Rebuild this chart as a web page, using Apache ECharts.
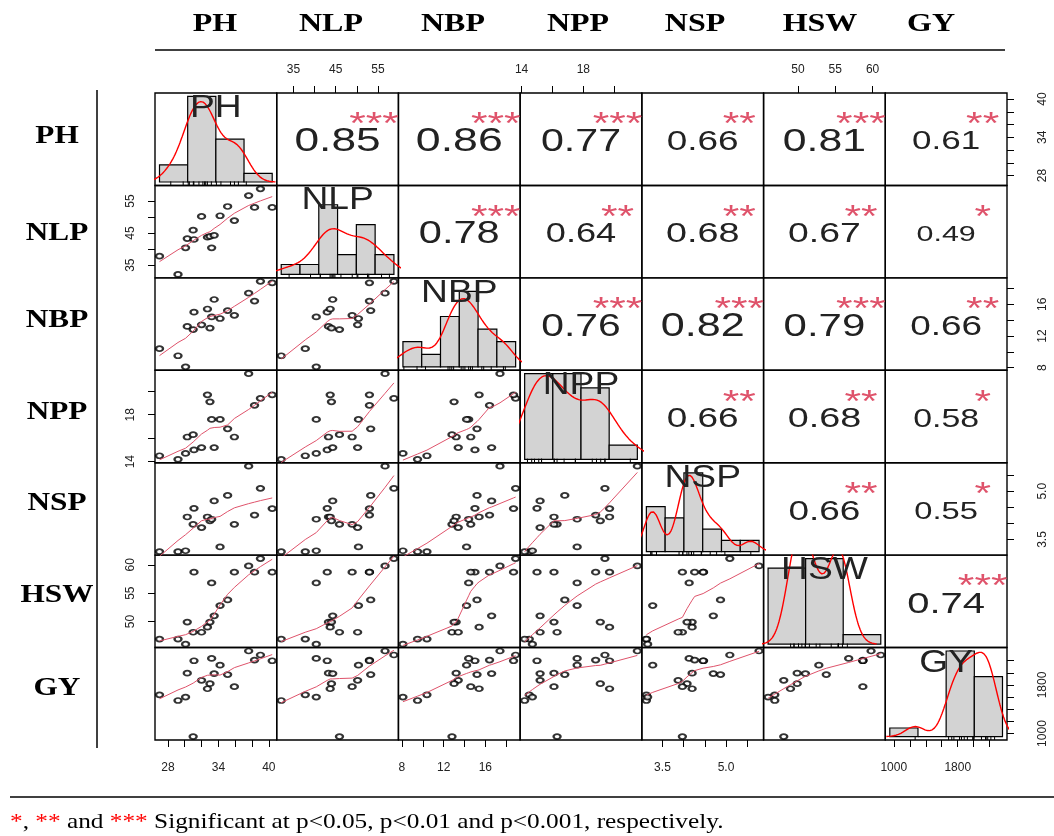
<!DOCTYPE html>
<html><head><meta charset="utf-8">
<script src="https://cdn.jsdelivr.net/npm/echarts@6/dist/echarts.min.js"></script>
<style>html,body{margin:0;padding:0;background:#fff}#c{width:1054px;height:836px}</style>
</head><body><div id="c"></div>
<script>
// ---------------- data ----------------
const varNames = ['PH','NLP','NBP','NPP','NSP','HSW','GY'];
const PH  = [27.0,29.2,30.1,30.3,31.0,31.1,32.0,32.7,33.0,33.2,33.5,34.2,35.1,35.9,37.6,38.3,39.0,40.4];
const NLP = [37.8,32.1,40.4,43.3,45.9,43.0,50.2,43.7,44.0,40.4,44.3,50.4,53.3,48.9,56.7,53.0,58.8,53.0];
const NBP = [10.4,9.5,8.1,13.2,12.8,15.0,13.4,15.4,13.0,14.4,16.6,14.2,15.2,14.6,17.4,16.4,18.9,18.7];
const NPP = [14.5,14.2,14.7,16.1,16.3,15.0,15.2,19.7,19.1,17.6,15.2,17.6,16.8,16.1,21.5,18.8,19.4,19.7];
const NSP = [3.12,3.12,3.15,4.20,3.97,4.47,3.87,4.20,4.08,4.13,4.70,3.27,4.87,3.97,5.78,4.26,5.09,4.46];
const HSW = [46.9,46.9,46.0,49.9,48.1,58.7,48.1,49.0,49.9,56.8,51.0,52.8,53.8,58.7,59.8,58.7,61.1,58.7];
const GY  = [1638,1544,1600,1995,950,2199,1877,1738,1821,2238,1988,2127,1971,1772,2360,2210,2294,2199];

// correlation labels of the upper triangle (row-major) and their significance stars
const corrUpper  = ['0.85','0.86','0.77','0.66','0.81','0.61',
                    '0.78','0.64','0.68','0.67','0.49',
                    '0.76','0.82','0.79','0.66',
                    '0.66','0.68','0.58',
                    '0.66','0.55',
                    '0.74'];
const starsUpper = ['***','***','***','**','***','**',
                    '***','**','**','**','*',
                    '***','***','***','**',
                    '**','**','*',
                    '**','*',
                    '***'];

// histogram breaks
const breaksPH  = [25,30,35,40,45];
const breaksNLP = [30,35,40,45,50,55,60];
const breaksNBP = [8,10,12,14,16,18,20];
const breaksNPP = [14,16,18,20,22];
const breaksNSP = [3,3.5,4,4.5,5,5.5,6];
const breaksHSW = [40,50,60,70];
const breaksGY  = [500,1000,1500,2000,2500];
// top of each histogram panel's count scale (as seen in the picture)
const histTop = [10, 8.6, 6.8, 6, 7.6, 9, 10];

// outer axis ticks and tick labels
const ticksPH  = [28,30,32,34,36,38,40],   labelsPH  = [28,34,40];
const ticksNLP = [35,40,45,50,55],         labelsNLP = [35,45,55];
const ticksNBP = [8,10,12,14,16,18],       labelsNBP = [8,12,16];
const ticksNPP = [14,16,18,20],            labelsNPP = [14,18];
const ticksNSP = [3.5,4,4.5,5,5.5],        labelsNSP = [3.5,5.0];
const ticksHSW = [50,55,60],               labelsHSW = [50,55,60];
const ticksGY  = [1000,1200,1400,1600,1800,2000,2200], labelsGY = [1000,1800];

const footText = '{r|*}, {r|**} and {r|***} Significant at p<0.05, p<0.01 and p<0.001, respectively.';

// ---------------- helpers ----------------
const dataV   = [PH,NLP,NBP,NPP,NSP,HSW,GY];
const breaksV = [breaksPH,breaksNLP,breaksNBP,breaksNPP,breaksNSP,breaksHSW,breaksGY];
const ticksV  = [ticksPH,ticksNLP,ticksNBP,ticksNPP,ticksNSP,ticksHSW,ticksGY];
const labelsV = [labelsPH,labelsNLP,labelsNBP,labelsNPP,labelsNSP,labelsHSW,labelsGY];
const fmtV = [null,null,null,null,v=>Number(v).toFixed(1),null,null];

const NV = 7, L = 155, T = 93, R = 1007, B = 740;
const CW = (R-L)/NV, CH = (B-T)/NV;
const SX = 1.33;      // horizontal stretch of the picture's text
const STAR = '#DF536B', SMOOTH = '#DF536B';
// header / row-label placement seen in the picture
const headerX = [215,331,453,578,695,820,931];
const rowLabelY = [137,234,321,413,504,596,689];

function ext(a,b){const d=(b-a)*0.04;return [a-d,b+d];}
function rangeOf(v){return ext(Math.min(...v),Math.max(...v));}
function histCounts(v,br){
  const c=new Array(br.length-1).fill(0);
  v.forEach(x=>{for(let k=0;k<br.length-1;k++){ if((x>br[k]||(k===0&&x>=br[0]))&&x<=br[k+1]){c[k]++;break;} }});
  return c;
}
function quantile(s,p){const h=(s.length-1)*p,lo=Math.floor(h),hi=Math.ceil(h);return s[lo]+(h-lo)*(s[hi]-s[lo]);}
function kde(v){
  const n=v.length,s=[...v].sort((a,b)=>a-b);
  const mean=v.reduce((a,b)=>a+b,0)/n;
  const sd=Math.sqrt(v.reduce((a,b)=>a+(b-mean)*(b-mean),0)/(n-1));
  let lo=Math.min(sd,(quantile(s,0.75)-quantile(s,0.25))/1.34); if(!(lo>0)) lo=sd;
  const bw=0.9*lo*Math.pow(n,-0.2);
  const from=s[0]-3*bw,to=s[n-1]+3*bw,out=[];
  for(let k=0;k<512;k++){const x=from+(to-from)*k/511;let d=0;for(const xi of v){const z=(x-xi)/bw;d+=Math.exp(-0.5*z*z);}out.push([x,d/(n*bw*Math.sqrt(2*Math.PI))]);}
  return out;
}
// port of R's clowess
function lowess(xIn,yIn,f,nsteps){
  const n=xIn.length;
  const ord=xIn.map((_,i)=>i).sort((a,b)=>xIn[a]-xIn[b]);
  const x=[0],y=[0]; ord.forEach(i=>{x.push(xIn[i]);y.push(yIn[i]);});
  const delta=0.01*(x[n]-x[1]);
  const ys=new Array(n+1).fill(0), rw=new Array(n+1).fill(1), w=new Array(n+1).fill(0);
  const ns=Math.max(2,Math.min(n,Math.floor(f*n+1e-7)));
  const range=x[n]-x[1];
  function lowest(xs,nleft,nright,userw){
    const h=Math.max(xs-x[nleft],x[nright]-xs),h9=0.999*h,h1=0.001*h;
    let a=0,j=nleft;
    while(j<=n){
      w[j]=0;const r=Math.abs(x[j]-xs);
      if(r<=h9){w[j]=r<=h1?1:Math.pow(1-Math.pow(r/h,3),3);if(userw)w[j]*=rw[j];a+=w[j];}
      else if(x[j]>xs)break;
      j++;
    }
    const nrt=j-1;
    if(a<=0)return null;
    for(j=nleft;j<=nrt;j++)w[j]/=a;
    if(h>0){
      a=0;for(j=nleft;j<=nrt;j++)a+=w[j]*x[j];
      let b=xs-a,c=0;for(j=nleft;j<=nrt;j++)c+=w[j]*(x[j]-a)*(x[j]-a);
      if(Math.sqrt(c)>0.001*range){b/=c;for(j=nleft;j<=nrt;j++)w[j]*=(b*(x[j]-a)+1);}
    }
    let s=0;for(j=nleft;j<=nrt;j++)s+=w[j]*y[j];return s;
  }
  let iter=1;
  while(iter<=nsteps+1){
    let nleft=1,nright=ns,last=0,i=1;
    for(;;){
      if(nright<n){const d1=x[i]-x[nleft],d2=x[nright+1]-x[i];if(d1>d2){nleft++;nright++;continue;}}
      const v=lowest(x[i],nleft,nright,iter>1);
      ys[i]=(v===null)?y[i]:v;
      if(last<i-1){const den=x[i]-x[last];for(let j=last+1;j<i;j++){const al=(x[j]-x[last])/den;ys[j]=al*ys[i]+(1-al)*ys[last];}}
      last=i;
      const cut=x[last]+delta;
      for(i=last+1;i<=n;i++){if(x[i]>cut)break;if(x[i]===x[last]){ys[i]=ys[last];last=i;}}
      i=Math.max(last+1,i-1);
      if(last>=n)break;
    }
    const res=[0];for(let k=1;k<=n;k++)res.push(y[k]-ys[k]);
    let sc=0;for(let k=1;k<=n;k++)sc+=Math.abs(res[k]);sc/=n;
    if(iter>nsteps)break;
    const ab=res.slice(1).map(Math.abs).sort((a,b)=>a-b);
    const m1=Math.floor(n/2);let cmad;
    if(n%2===0){const m2=n-m1-1;cmad=3*(ab[m1]+ab[m2]);}else cmad=6*ab[m1];
    if(cmad<1e-7*sc)break;
    const c9=0.999*cmad,c1=0.001*cmad;
    for(let k=1;k<=n;k++){const r=Math.abs(res[k]);rw[k]=r<=c1?1:(r<=c9?Math.pow(1-Math.pow(r/cmad,2),2):0);}
    iter++;
  }
  const out=[];for(let k=1;k<=n;k++)out.push([x[k],ys[k]]);return out;
}

// ---------------- build option ----------------
const grids=[],xAxes=[],yAxes=[],series=[];
const labelFont={fontSize:12,color:'#222',fontFamily:'Liberation Sans'};
function hiddenAxis(gi,mn,mx,pos){return {type:'value',gridIndex:gi,min:mn,max:mx,show:false,position:pos};}
function shownAxis(gi,mn,mx,pos,v,isY){
  const m={top:17,bottom:22,left:18,right:30}[pos];
  return {type:'value',gridIndex:gi,min:mn,max:mx,position:pos,
    axisLine:{show:false},splitLine:{show:false},
    axisTick:{show:true,inside:false,length:7,lineStyle:{color:'#000',width:1},customValues:ticksV[v]},
    axisLabel:Object.assign({show:true,margin:m,rotate:isY?90:0,customValues:labelsV[v],
      formatter:fmtV[v]||(val=>String(val))},labelFont)};
}
function textSeries(xi,yi,x,y,text,size,color,sx,clip,dy){
  return {type:'custom',xAxisIndex:xi,yAxisIndex:yi,clip:!!clip,silent:true,z:5,data:[[x,y]],
    renderItem:(p,api)=>{const c=api.coord([api.value(0),api.value(1)]);
      return {type:'text',x:c[0],y:c[1]+(dy||0),scaleX:sx,style:{text:text,fontSize:size,fontFamily:'Liberation Sans',fill:color,align:'center',verticalAlign:'middle'}};}};
}

let up=0;
for(let i=0;i<NV;i++){
  for(let j=0;j<NV;j++){
    const gi=grids.length;
    grids.push({left:L+j*CW,top:T+i*CH,width:CW,height:CH,show:true,borderColor:'#000',borderWidth:1.4,backgroundColor:'transparent'});
    let xr,yr;
    if(i>j){xr=rangeOf(dataV[j]);yr=rangeOf(dataV[i]);}
    else if(i===j){
      const br=breaksV[i];xr=ext(br[0],br[br.length-1]);
      yr=ext(0,histTop[i]);
    } else {xr=[0,1];yr=[0,1];}
    const xi=xAxes.length, yi=yAxes.length;
    if(i===NV-1&&j<NV-1&&j%2===0) xAxes.push(shownAxis(gi,xr[0],xr[1],'bottom',j,false));
    else xAxes.push(hiddenAxis(gi,xr[0],xr[1],'bottom'));
    if(j===0&&i>0&&i%2===1) yAxes.push(shownAxis(gi,yr[0],yr[1],'left',i,true));
    else yAxes.push(hiddenAxis(gi,yr[0],yr[1],'left'));
    if(i===0&&j%2===1){const r=rangeOf(dataV[j]);xAxes.push(shownAxis(gi,r[0],r[1],'top',j,false));}
    if(i===NV-1&&j===NV-1){const r=rangeOf(dataV[j]);xAxes[xi].position='top';xAxes.push(shownAxis(gi,r[0],r[1],'bottom',j,false));}
    if(j===NV-1&&i%2===0){const r=rangeOf(dataV[i]);yAxes.push(shownAxis(gi,r[0],r[1],'right',i,true));}

    if(i>j){
      const pts=dataV[j].map((v,k)=>[v,dataV[i][k]]);
      series.push({type:'scatter',xAxisIndex:xi,yAxisIndex:yi,data:pts,symbol:'emptyCircle',symbolSize:[7,5],
        itemStyle:{color:'#000',borderWidth:1},silent:true,z:3});
      series.push({type:'line',xAxisIndex:xi,yAxisIndex:yi,data:lowess(dataV[j],dataV[i],2/3,3),showSymbol:false,
        lineStyle:{color:SMOOTH,width:1},silent:true,z:4,animation:false});
    } else if(i===j){
      const br=breaksV[i],cnt=histCounts(dataV[i],br),bw=br[1]-br[0],n=dataV[i].length;
      series.push({type:'custom',xAxisIndex:xi,yAxisIndex:yi,silent:true,z:2,
        data:cnt.map((c,k)=>[br[k],br[k+1],c]),
        renderItem:(p,api)=>{const p0=api.coord([api.value(0),0]),p1=api.coord([api.value(1),api.value(2)]);
          return {type:'rect',shape:{x:p0[0],y:p1[1],width:p1[0]-p0[0],height:p0[1]-p1[1]},style:{fill:'#D3D3D3',stroke:'#000',lineWidth:1.2}};}});
      series.push({type:'line',xAxisIndex:xi,yAxisIndex:yi,data:kde(dataV[i]).map(d=>[d[0],d[1]*n*bw]),showSymbol:false,
        clip:true,lineStyle:{color:'#FF0000',width:1.4},silent:true,z:3});
      const ybot=yr[0];
      series.push({type:'custom',xAxisIndex:xi,yAxisIndex:yi,silent:true,z:3,data:dataV[i].map(v=>[v]),
        renderItem:(p,api)=>{const c=api.coord([api.value(0),ybot]);
          return {type:'line',shape:{x1:c[0],y1:c[1],x2:c[0],y2:c[1]-4},style:{stroke:'#000',lineWidth:1}};}});
      series.push(textSeries(xi,yi,(xr[0]+xr[1])/2,yr[0]+0.833*(yr[1]-yr[0]),varNames[i],31,'#222',1.2,false,0));
    } else {
      const r=parseFloat(corrUpper[up]);
      const base=0.8*CW/(1.946*SX);
      series.push(textSeries(xi,yi,0.5,0.5,corrUpper[up],base*(r+0.3)/1.3,'#222',SX,false,3));
      series.push(textSeries(xi,yi,0.8,0.8,starsUpper[up],base*0.85,STAR,SX,true,14));
      up++;
    }
  }
}

// titles, row labels, rules and note
const graphic=[];
const hdrFont={fontSize:25,fontWeight:'bold',fontFamily:'Liberation Serif',fill:'#000',align:'center',verticalAlign:'middle'};
varNames.forEach((nm,k)=>{
  graphic.push({type:'text',x:headerX[k],y:25,scaleX:1.28,style:Object.assign({text:nm},hdrFont)});
  graphic.push({type:'text',x:57,y:rowLabelY[k],scaleX:1.25,style:Object.assign({text:nm},hdrFont)});
});
graphic.push({type:'line',shape:{x1:155,y1:50,x2:1005,y2:50},style:{stroke:'#000',lineWidth:1.5}});
graphic.push({type:'line',shape:{x1:97,y1:90,x2:97,y2:748},style:{stroke:'#000',lineWidth:1.5}});
graphic.push({type:'line',shape:{x1:10,y1:797,x2:1054,y2:797},style:{stroke:'#000',lineWidth:1.5}});
graphic.push({type:'text',x:10,y:822,scaleX:1.15,style:{text:footText,fontSize:22,fontFamily:'Liberation Serif',fill:'#000',
  align:'left',verticalAlign:'middle',rich:{r:{fill:'#FF0000',fontSize:22,fontFamily:'Liberation Serif'}}}});

const chart=echarts.init(document.getElementById('c'));
chart.setOption({animation:false,backgroundColor:'#fff',grid:grids,xAxis:xAxes,yAxis:yAxes,series:series,graphic:graphic});
</script></body></html>
